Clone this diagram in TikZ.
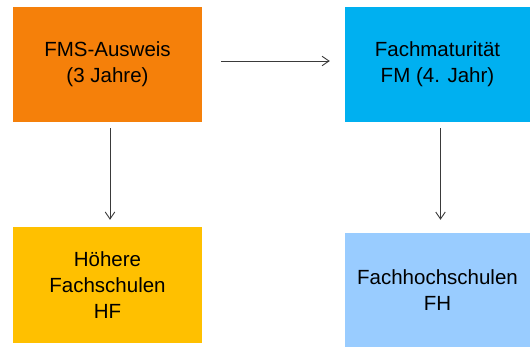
\documentclass[tikz,border=0pt]{standalone}
\usepackage{fontspec}
\setmainfont{Liberation Sans}
\usetikzlibrary{arrows.meta}
\definecolor{cOrange}{HTML}{F5800A}
\definecolor{cBlue}{HTML}{00B0F0}
\definecolor{cYellow}{HTML}{FFC000}
\definecolor{cLight}{HTML}{99CCFF}
\definecolor{cLine}{HTML}{3A3A3A}
\tikzset{
  box/.style={rectangle, inner sep=0pt, align=center, text=black,
    font=\fontsize{20.5}{26}\selectfont},
  conn/.style={draw=cLine, line width=0.9pt, -{Straight Barb[length=7pt,width=9.5pt]}}
}
\begin{document}
\begin{tikzpicture}[x=1pt,y=-1pt]
\useasboundingbox (0,0) rectangle (530,347);
\node[box, fill=cOrange, minimum width=189pt, minimum height=115pt] (fms) at (107.5,64.5) {FMS-Ausweis\\(3 Jahre)};
\node[box, fill=cBlue, minimum width=185pt, minimum height=115pt] (fm) at (437.5,64.5) {Fachmaturität\\FM (4. Jahr)};
\node[box, fill=cYellow, minimum width=189pt, minimum height=115.5pt] (hf) at (107.5,284.75) {Höhere\\Fachschulen\\HF};
\node[box, fill=cLight, minimum width=185pt, minimum height=114pt] (fh) at (437.5,290) {Fachhochschulen\\FH};
\draw[conn, shorten <=19pt, shorten >=15pt] ([yshift=3.5pt]fms.east) -- ([yshift=3.5pt]fm.west);
\draw[conn, shorten <=6pt, shorten >=7pt] ([xshift=2.5pt]fms.south) -- ([xshift=2.5pt]hf.north);
\draw[conn, shorten <=6pt, shorten >=13pt] ([xshift=3pt]fm.south) -- ([xshift=3pt]fh.north);
\end{tikzpicture}
\end{document}
